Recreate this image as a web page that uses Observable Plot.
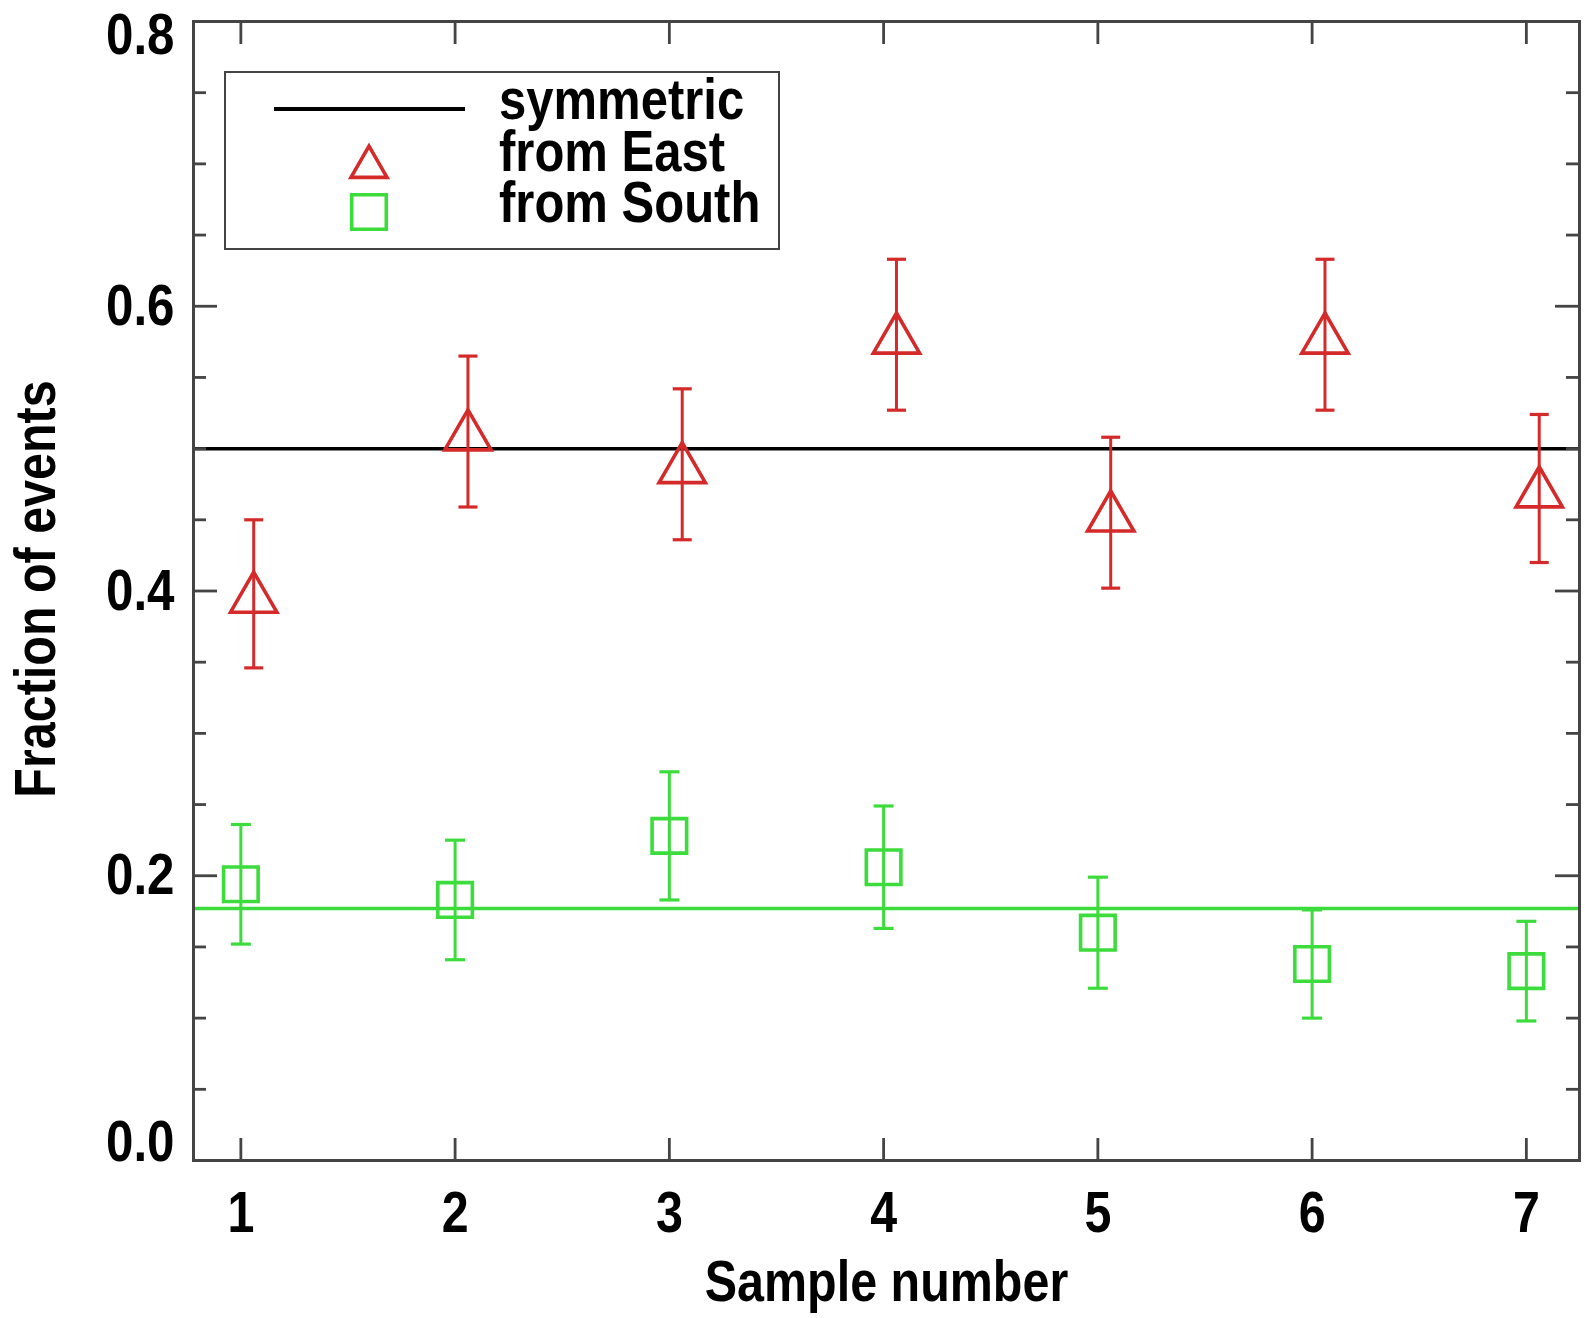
<!DOCTYPE html>
<html>
<head>
<meta charset="utf-8">
<script src="https://cdn.jsdelivr.net/npm/d3@7"></script>
<script src="https://cdn.jsdelivr.net/npm/@observablehq/plot@0.6"></script>
<style>
  html, body { margin: 0; padding: 0; background: #fff; }
  #wrap { position: relative; width: 1585px; height: 1318px; }
  #legend {
    position: absolute; left: 224px; top: 71px; width: 552px; height: 175px;
    border: 2.5px solid #444; background: #fff;
  }
  #legend svg { position: absolute; left: 0; top: 0; overflow: visible; }
</style>
</head>
<body>
<div id="wrap"></div>
<script>
// ---- data ----
const samples = [1, 2, 3, 4, 5, 6, 7];
const eastFraction = [0.398, 0.512, 0.489, 0.580, 0.455, 0.580, 0.472];
const eastError    = [0.052, 0.053, 0.053, 0.053, 0.053, 0.053, 0.052];
const southFraction = [0.194, 0.183, 0.228, 0.206, 0.160, 0.138, 0.133];
const southError    = [0.042, 0.042, 0.045, 0.043, 0.039, 0.038, 0.035];
const symmetricLevel = 0.5;
const southLevel = 0.177;
const xTicks = [1, 2, 3, 4, 5, 6, 7];
const yLabelTicks = [0.2, 0.4, 0.6];
const yMajorTicks = [0.0, 0.2, 0.4, 0.6, 0.8];
const yMinorTicks = [0.05, 0.1, 0.15, 0.25, 0.3, 0.35, 0.45, 0.5, 0.55, 0.65, 0.7, 0.75];
const legendLabels = ["symmetric", "from East", "from South"];

// ---- style ----
const RED = "#d42a2a", GREEN = "#3cdc3c", AXIS = "#444";
const eastDodge = 0.06;
const W = 1585, H = 1318;
const mL = 193, mR = 6, mT = 21, mB = 158;
const pw = W - mL - mR, ph = H - mT - mB;
const FONT = "'Liberation Sans', Arial, Helvetica, sans-serif";

const east = samples.map((s, i) => ({x: s + eastDodge, v: eastFraction[i], e: eastError[i]}));
const south = samples.map((s, i) => ({x: s, v: southFraction[i], e: southError[i]}));

// horizontal cap symbol for error bars
const capSymbol = {
  draw(ctx, size) {
    const r = Math.sqrt(size / Math.PI);
    ctx.moveTo(-r, 0); ctx.lineTo(r, 0);
  }
};

const fmt = d3.format(".1f");

const chart = Plot.plot({
  width: W, height: H,
  marginLeft: mL, marginRight: mR, marginTop: mT, marginBottom: mB,
  style: {fontFamily: FONT, fontWeight: "bold", color: "#000", background: "#fff", overflow: "visible"},
  x: {domain: [0.779, 7.248]},
  y: {domain: [0, 0.8]},
  marks: [
    Plot.ruleY([symmetricLevel], {stroke: "#000", strokeWidth: 3.5}),
    Plot.ruleY([southLevel], {stroke: GREEN, strokeWidth: 3.5}),
    Plot.ruleX(east, {x: "x", y1: d => d.v - d.e, y2: d => d.v + d.e, stroke: RED, strokeWidth: 3}),
    Plot.dot(east, {x: "x", y: d => d.v - d.e, symbol: capSymbol, r: 9.5, stroke: RED, strokeWidth: 3.2, fill: "none"}),
    Plot.dot(east, {x: "x", y: d => d.v + d.e, symbol: capSymbol, r: 9.5, stroke: RED, strokeWidth: 3.2, fill: "none"}),
    Plot.dot(east, {x: "x", y: "v", symbol: "triangle", r: 17.2, dy: 5, stroke: RED, strokeWidth: 3.6, fill: "none"}),
    Plot.ruleX(south, {x: "x", y1: d => d.v - d.e, y2: d => d.v + d.e, stroke: GREEN, strokeWidth: 3}),
    Plot.dot(south, {x: "x", y: d => d.v - d.e, symbol: capSymbol, r: 10, stroke: GREEN, strokeWidth: 3.2, fill: "none"}),
    Plot.dot(south, {x: "x", y: d => d.v + d.e, symbol: capSymbol, r: 10, stroke: GREEN, strokeWidth: 3.2, fill: "none"}),
    Plot.dot(south, {x: "x", y: "v", symbol: "square", r: 19.5, stroke: GREEN, strokeWidth: 3.6, fill: "none"}),
    Plot.ruleX(xTicks, {insetTop: ph - 22, stroke: AXIS, strokeWidth: 2.8}),
    Plot.ruleX(xTicks, {insetBottom: ph - 23, stroke: AXIS, strokeWidth: 2.8}),
    Plot.ruleY(yMajorTicks, {insetRight: pw - 24, stroke: AXIS, strokeWidth: 2.8}),
    Plot.ruleY(yMinorTicks, {insetRight: pw - 13, stroke: AXIS, strokeWidth: 2.8}),
    Plot.ruleY(yMajorTicks, {insetLeft: pw - 24, stroke: AXIS, strokeWidth: 2.8}),
    Plot.ruleY(yMinorTicks, {insetLeft: pw - 13, stroke: AXIS, strokeWidth: 2.8}),
    Plot.frame({stroke: AXIS, strokeWidth: 3}),
    Plot.axisX(xTicks, {tickSize: 0, tickPadding: 31, fontSize: 57, fontWeight: "bold", tickFormat: d3.format("d"), label: null}),
    Plot.axisY(yLabelTicks, {tickSize: 0, tickPadding: 19, fontSize: 58, fontWeight: "bold", tickFormat: fmt, label: null}),
    Plot.axisY([0.8], {tickSize: 0, tickPadding: 19, fontSize: 58, fontWeight: "bold", tickFormat: fmt, label: null, dy: 14}),
    Plot.axisY([0.0], {tickSize: 0, tickPadding: 19, fontSize: 58, fontWeight: "bold", tickFormat: fmt, label: null, dy: -18}),
    Plot.text(["Sample number"], {frameAnchor: "bottom", textAnchor: "middle", dy: 140, fontSize: 57, fontWeight: "bold", fill: "#000"}),
    Plot.text(["Fraction of events"], {frameAnchor: "left", textAnchor: "middle", rotate: -90, dx: -157, dy: -2, fontSize: 57, fontWeight: "bold", fill: "#000"})
  ]
});

const wrap = document.getElementById("wrap");
wrap.appendChild(chart);

// legend
const legend = document.createElement("div");
legend.id = "legend";
wrap.appendChild(legend);
const lsvg = d3.select(legend).append("svg").attr("width", 552).attr("height", 175);
lsvg.append("line").attr("x1", 48).attr("x2", 239).attr("y1", 36).attr("y2", 36)
  .attr("stroke", "#000").attr("stroke-width", 4);
lsvg.append("path").attr("d", d3.symbol(d3.symbolTriangle2, Math.PI * 17.2 * 17.2)())
  .attr("transform", "translate(143,94)").attr("fill", "none").attr("stroke", RED).attr("stroke-width", 3.6);
lsvg.append("path").attr("d", d3.symbol(d3.symbolSquare, Math.PI * 19.5 * 19.5)())
  .attr("transform", "translate(143,139)").attr("fill", "none").attr("stroke", GREEN).attr("stroke-width", 3.6);
lsvg.selectAll("text.lab").data(legendLabels).join("text")
  .attr("class", "lab")
  .attr("x", 273)
  .attr("y", (d, i) => [46, 98, 149][i])
  .attr("font-family", FONT).attr("font-weight", "bold").attr("font-size", 57)
  .attr("fill", "#000")
  .text(d => d);

// condense glyphs to mimic the narrow bold face of the original
function condense(root, factor) {
  root.querySelectorAll("text").forEach(t => {
    const len = t.getComputedTextLength();
    if (len > 0) {
      t.setAttribute("textLength", (len * factor).toFixed(1));
      t.setAttribute("lengthAdjust", "spacingAndGlyphs");
    }
  });
}
condense(chart, 0.85);
condense(legend, 0.86);
</script>
</body>
</html>
